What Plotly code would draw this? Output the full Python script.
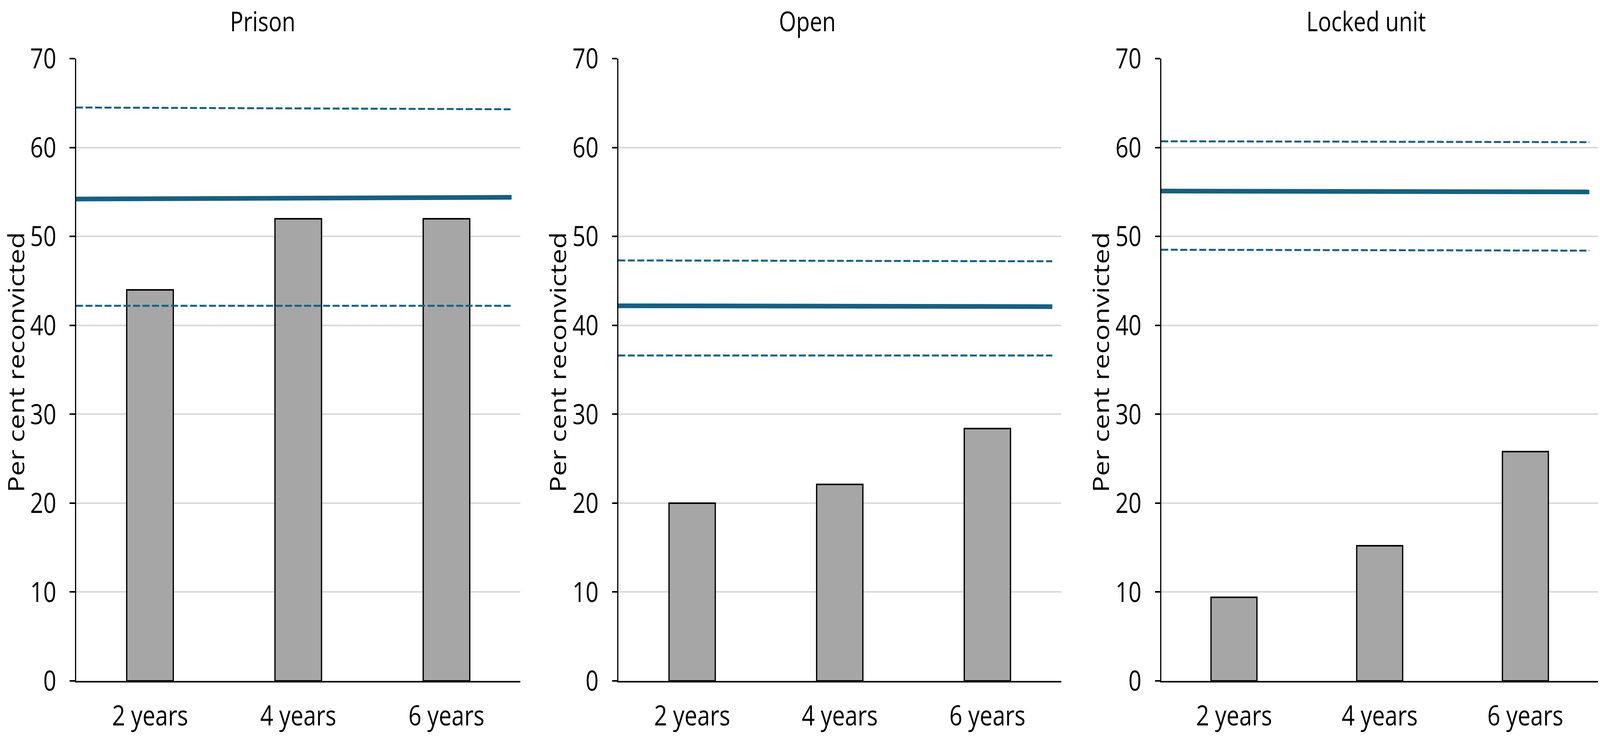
import plotly.graph_objects as go

# ---------------------------------------------------------------
# Data
# ---------------------------------------------------------------
panels = ["Prison", "Open", "Locked unit"]
categories = ["2 years", "4 years", "6 years"]

prison_bars = [44.0, 52.0, 52.0]
open_bars = [20.0, 22.1, 28.4]
locked_bars = [9.4, 15.2, 25.8]

# reference lines: value at the left and right end of each line
prison_mean = [54.2, 54.4]
prison_upper = [64.5, 64.3]
prison_lower = [42.2, 42.2]

open_mean = [42.2, 42.1]
open_upper = [47.3, 47.2]
open_lower = [36.6, 36.6]

locked_mean = [55.1, 55.0]
locked_upper = [60.7, 60.6]
locked_lower = [48.5, 48.4]

line_x = [-0.5, 2.44]

y_ticks = [0, 10, 20, 30, 40, 50, 60, 70]

# ---------------------------------------------------------------
# Styling
# ---------------------------------------------------------------
FONT = "Open Sans"
BAR_FILL = "#a6a6a6"
LINE_COL = "#175f82"
GRID_COL = "#d9d9d9"

W, H = 5051, 1884
M_L, M_R, M_T, M_B = 240, 6, 150, 128
PW = W - M_L - M_R
PH = H - M_T - M_B


def px_x(p):
    return (p - M_L) / PW


def px_y(p):
    return (H - M_B - p) / PH


domains = [
    [px_x(240), px_x(1643)],
    [px_x(1952), px_x(3350)],
    [px_x(3666), px_x(5045)],
]
title_x = [829, 2549, 4313]
ytitle_x = [49, 1760, 3474]

bars = [prison_bars, open_bars, locked_bars]
lines = [
    (prison_mean, prison_upper, prison_lower),
    (open_mean, open_upper, open_lower),
    (locked_mean, locked_upper, locked_lower),
]

fig = go.Figure()
annotations = []

for i, name in enumerate(panels):
    xa = "x" if i == 0 else f"x{i + 1}"
    ya = "y" if i == 0 else f"y{i + 1}"

    fig.add_trace(go.Bar(
        x=[0, 1, 2], y=bars[i], width=0.315,
        marker=dict(color=BAR_FILL, line=dict(color="black", width=4)),
        xaxis=xa, yaxis=ya, showlegend=False,
    ))

    mean, upper, lower = lines[i]
    for vals, dash, width in [(upper, "22px,8px", 5), (lower, "22px,8px", 5), (mean, "solid", 12)]:
        fig.add_trace(go.Scatter(
            x=line_x, y=vals, mode="lines",
            line=dict(color=LINE_COL, width=width, dash=dash),
            xaxis=xa, yaxis=ya, showlegend=False, hoverinfo="skip",
        ))

    fig.layout[f"xaxis{'' if i == 0 else i + 1}"] = dict(
        domain=domains[i], anchor=ya, range=[-0.5, 2.5],
        tickvals=[0, 1, 2], ticktext=categories, ticks="",
        ticklabelstandoff=24,
        showline=True, linecolor="black", linewidth=4,
        showgrid=False, zeroline=False,
        tickfont=dict(family=FONT, size=72, color="black"),
    )
    fig.layout[f"yaxis{'' if i == 0 else i + 1}"] = dict(
        domain=[0, 1], anchor=xa, range=[0, 70],
        tickvals=y_ticks, ticks="outside", ticklen=17, tickwidth=4, tickcolor="black",
        ticklabelstandoff=28,
        showline=True, linecolor="black", linewidth=3,
        showgrid=True, gridcolor=GRID_COL, gridwidth=4, zeroline=False,
        tickfont=dict(family=FONT, size=72, color="black"),
    )

    annotations.append(dict(
        text=name, xref="paper", yref="paper", x=px_x(title_x[i]), y=px_y(2),
        xanchor="center", yanchor="top", showarrow=False,
        font=dict(family=FONT, size=70, color="black"),
    ))
    annotations.append(dict(
        text="Per cent reconvicted", xref="paper", yref="paper",
        x=px_x(ytitle_x[i]), y=px_y(934), textangle=-90,
        xanchor="center", yanchor="middle", showarrow=False,
        font=dict(family=FONT, size=70, color="black"),
    ))

fig.update_layout(
    width=W, height=H,
    margin=dict(l=M_L, r=M_R, t=M_T, b=M_B),
    paper_bgcolor="white", plot_bgcolor="white",
    annotations=annotations,
    bargap=0,
)

# the browser window can be narrower than the figure: squeeze it to fit
fit_js = (
    "var gd=document.getElementById('{plot_id}');"
    "document.body.style.margin='0';document.body.style.overflow='hidden';"
    "var s=Math.min(1, window.innerWidth/" + str(W) + ");"
    "gd.style.transformOrigin='0 0';gd.style.transform='scaleX('+s+')';"
)
fig.write_html("out.html", post_script=fit_js, config={"displayModeBar": False})
